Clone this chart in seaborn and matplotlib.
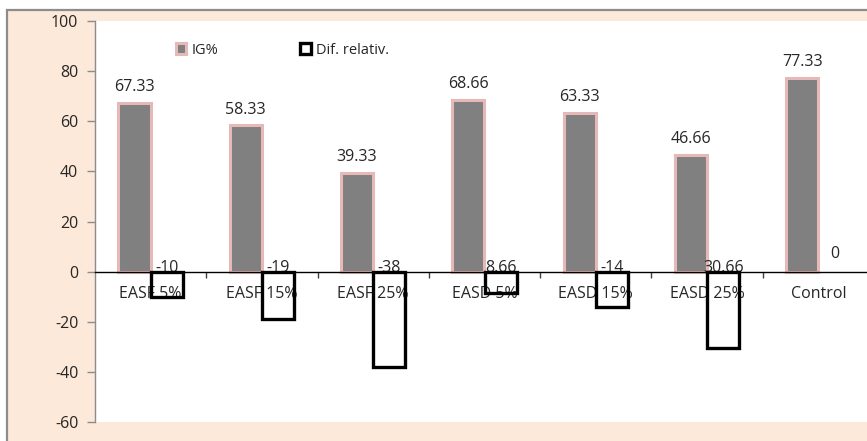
import matplotlib
matplotlib.use("Agg")
import matplotlib.pyplot as plt
from matplotlib.patches import Patch, Rectangle
import seaborn as sns
import pandas as pd

# Data
categories = ["EASF 5%", "EASF 15%", "EASF 25%", "EASD 5%", "EASD 15%", "EASD 25%", "Control"]
ig_values = [67.33, 58.33, 39.33, 68.66, 63.33, 46.66, 77.33]
dif_values = [-10, -19, -38, -8.66, -14, -30.66, 0]
ig_labels = ["67.33", "58.33", "39.33", "68.66", "63.33", "46.66", "77.33"]
dif_labels = ["-10", "-19", "-38", "8.66", "-14", "30.66", "0"]
series_names = ["IG%", "Dif. relativ."]
y_ticks = [-60, -40, -20, 0, 20, 40, 60, 80, 100]

sns.set_theme(style="white")
plt.rcParams["font.family"] = ["Open Sans", "DejaVu Sans"]

W, H = 867, 441
fig = plt.figure(figsize=(W / 100, H / 100), dpi=100)
fig.patch.set_facecolor("white")

# Peach chart area with grey frame
frame = Rectangle((7 / W, -0.2), 1.2, 1.2 - 10 / H, transform=fig.transFigure,
                  facecolor="#FDE9D9", edgecolor="#8C8C8C", linewidth=1.6, zorder=-1)
fig.patches.append(frame)

ax = fig.add_axes([95 / W, 19 / H, 779 / W, 401 / H])
ax.set_facecolor("white")

df = pd.DataFrame({
    "cat": categories * 2,
    "value": ig_values + dif_values,
    "series": [series_names[0]] * len(categories) + [series_names[1]] * len(categories),
})

sns.barplot(data=df, x="cat", y="value", hue="series", order=categories,
            hue_order=series_names, width=0.58, dodge=True, ax=ax,
            palette=["#808080", "white"], legend=False, errorbar=None)

ig_bars, dif_bars = ax.containers[0], ax.containers[1]
for p in ig_bars:
    p.set_facecolor("#808080")
    p.set_edgecolor("#E6B9B8")
    p.set_linewidth(2.2)
for p, v in zip(dif_bars, dif_values):
    p.set_facecolor("none")
    p.set_edgecolor("black")
    p.set_linewidth(2.4 if v != 0 else 0)
    p.set_zorder(4)

# Value labels
for p, lab in zip(ig_bars, ig_labels):
    ax.annotate(lab, (p.get_x() + p.get_width() / 2, p.get_height()),
                xytext=(0, 5.5), textcoords="offset points", ha="center", va="bottom",
                fontsize=11.5, color="#262626")
for p, v, lab in zip(dif_bars, dif_values, dif_labels):
    y = 7.0 if v == 0 else 1.5
    ax.text(p.get_x() + p.get_width() / 2, y, lab,
            ha="center", va="center", fontsize=11.5, color="#262626", zorder=3)

ax.set_ylim(-60, 100)
ax.set_xlim(-0.5, 6.5)
ax.set_yticks(y_ticks)
ax.set_yticklabels([str(t) for t in y_ticks])
ax.set_xlabel("")
ax.set_ylabel("")

for s in ["top", "right"]:
    ax.spines[s].set_visible(False)
ax.spines["left"].set_color("#8C8C8C")
ax.spines["left"].set_linewidth(1.0)
ax.spines["bottom"].set_position(("data", 0))
ax.spines["bottom"].set_color("black")
ax.spines["bottom"].set_linewidth(1.0)

ax.tick_params(axis="y", which="major", left=True, length=6, width=1.0, color="#8C8C8C",
               labelsize=11.5, labelcolor="#262626", pad=6)
ax.set_xticks(range(len(categories)))
ax.set_xticklabels(categories)
ax.set_xticks([i + 0.5 for i in range(len(categories))], minor=True)
ax.tick_params(axis="x", which="major", bottom=True, length=0, pad=10.5,
               labelsize=11.5, labelcolor="#262626")
ax.tick_params(axis="x", which="minor", bottom=True, length=4, width=1.0, color="#404040")

handles = [Patch(facecolor="#808080", edgecolor="#E6B9B8", linewidth=2.2),
           Patch(facecolor="white", edgecolor="black", linewidth=2.4)]
fig.legend(handles, series_names, loc="center left", bbox_to_anchor=(176 / W, 1 - 50 / H),
           ncol=2, frameon=False, fontsize=10.5, handlelength=0.7, handleheight=0.7,
           handletextpad=0.4, columnspacing=5.6, borderpad=0, borderaxespad=0,
           labelcolor="#262626")

fig.savefig("out.png", dpi=100, facecolor=fig.get_facecolor())
